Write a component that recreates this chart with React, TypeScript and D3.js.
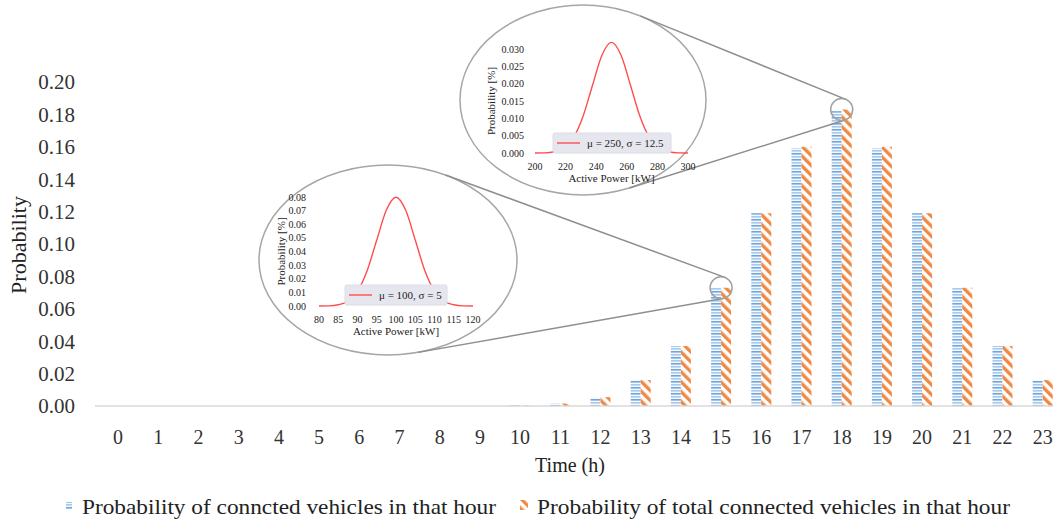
import React from "react";
import * as d3 from "d3";

// ---- main chart data ----
const hours = d3.range(0, 24).map(String);
const connectedProb = [0, 0, 0, 0, 0, 0, 0, 0, 0, 0, 0.0004, 0.0015, 0.005, 0.016, 0.037, 0.073, 0.119, 0.159, 0.182, 0.159, 0.119, 0.073, 0.037, 0.016];
const totalProb = [0, 0, 0, 0, 0, 0, 0, 0, 0, 0, 0.0004, 0.0015, 0.0055, 0.016, 0.037, 0.073, 0.119, 0.16, 0.183, 0.16, 0.119, 0.073, 0.037, 0.016];
const yTicks = [0, 0.02, 0.04, 0.06, 0.08, 0.1, 0.12, 0.14, 0.16, 0.18, 0.2];
const seriesNames = ["Probability of conncted vehicles in that hour", "Probability of total connected vehicles in that hour"];

// ---- inset A (mu=100, sigma=5) ----
const insetA_x = [80, 82.5, 85, 87.5, 90, 92.5, 95, 97.5, 100, 102.5, 105, 107.5, 110, 112.5, 115, 117.5, 120];
const insetA_y = [0, 0.0001, 0.0009, 0.0035, 0.0108, 0.0259, 0.0484, 0.0704, 0.0798, 0.0704, 0.0484, 0.0259, 0.0108, 0.0035, 0.0009, 0.0001, 0];
const insetA_xTicks = [80, 85, 90, 95, 100, 105, 110, 115, 120];
const insetA_yTicks = [0, 0.01, 0.02, 0.03, 0.04, 0.05, 0.06, 0.07, 0.08];
const insetA_label = "μ = 100, σ = 5";
const insetA_hour = 15;

// ---- inset B (mu=250, sigma=12.5) ----
const insetB_x = [200, 206.25, 212.5, 218.75, 225, 231.25, 237.5, 243.75, 250, 256.25, 262.5, 268.75, 275, 281.25, 287.5, 293.75, 300];
const insetB_y = [0, 0.00004, 0.00035, 0.0014, 0.0043, 0.0104, 0.0194, 0.0282, 0.0319, 0.0282, 0.0194, 0.0104, 0.0043, 0.0014, 0.00035, 0.00004, 0];
const insetB_xTicks = [200, 220, 240, 260, 280, 300];
const insetB_yTicks = [0, 0.005, 0.01, 0.015, 0.02, 0.025, 0.03];
const insetB_label = "μ = 250, σ = 12.5";
const insetB_hour = 18;

const W = 1053, H = 521;
const FONT = "'Times New Roman', 'Liberation Serif', serif";

function tangents(e: { cx: number; cy: number; rx: number; ry: number }, c: { cx: number; cy: number; r: number }) {
  const f = (t: number) => {
    const nx = Math.cos(t), ny = Math.sin(t);
    return Math.sqrt(e.rx * e.rx * nx * nx + e.ry * e.ry * ny * ny) + nx * e.cx + ny * e.cy - (c.r + nx * c.cx + ny * c.cy);
  };
  const roots: number[] = [];
  const N = 3600;
  for (let i = 0; i < N; i++) {
    let a = (i / N) * 2 * Math.PI, b = ((i + 1) / N) * 2 * Math.PI;
    let fa = f(a), fb = f(b);
    if (fa === 0) { roots.push(a); continue; }
    if (fa * fb < 0) {
      for (let k = 0; k < 50; k++) {
        const m = (a + b) / 2, fm = f(m);
        if (fa * fm <= 0) { b = m; fb = fm; } else { a = m; fa = fm; }
      }
      roots.push((a + b) / 2);
    }
  }
  return roots.map((t) => {
    const nx = Math.cos(t), ny = Math.sin(t);
    const s = Math.sqrt(e.rx * e.rx * nx * nx + e.ry * e.ry * ny * ny);
    return {
      x1: e.cx + (e.rx * e.rx * nx) / s,
      y1: e.cy + (e.ry * e.ry * ny) / s,
      x2: c.cx + c.r * nx,
      y2: c.cy + c.r * ny,
    };
  });
}

type InsetProps = {
  xs: number[]; ys: number[]; xTicks: number[]; yTicks: number[];
  xRange: [number, number]; yRange: [number, number]; yMax: number;
  yFmt: (v: number) => string; label: string;
  legend: { x: number; y: number; w: number; h: number };
  yLabelX: number; yTitleX: number;
};

function Inset(p: InsetProps) {
  const x = d3.scaleLinear().domain([p.xTicks[0], p.xTicks[p.xTicks.length - 1]]).range(p.xRange);
  const y = d3.scaleLinear().domain([0, p.yMax]).range(p.yRange);
  const line = d3.line<number>().x((_, i) => x(p.xs[i])).y((d) => y(d)).curve(d3.curveMonotoneX);
  const fs = 10;
  return (
    <g fontFamily={FONT} fill="#222">
      <path d={line(p.ys) || ""} fill="none" stroke="#ff4d4d" strokeWidth={1.4} />
      {p.yTicks.map((t) => (
        <text key={"y" + t} x={p.yLabelX} y={y(t)} dy="0.35em" textAnchor="end" fontSize={fs}>{p.yFmt(t)}</text>
      ))}
      {p.xTicks.map((t) => (
        <text key={"x" + t} x={x(t)} y={p.yRange[0] + 13} dy="0.35em" textAnchor="middle" fontSize={fs}>{t}</text>
      ))}
      <text x={(p.xRange[0] + p.xRange[1]) / 2} y={p.yRange[0] + 25} dy="0.35em" textAnchor="middle" fontSize={11}>Active Power [kW]</text>
      <text transform={`translate(${p.yTitleX},${(p.yRange[0] + p.yRange[1]) / 2}) rotate(-90)`} textAnchor="middle" dy="0.35em" fontSize={11}>Probability [%]</text>
      <rect x={p.legend.x} y={p.legend.y} width={p.legend.w} height={p.legend.h} rx={2} fill="#e6e6ef" stroke="#dcdce6" />
      <line x1={p.legend.x + 4} x2={p.legend.x + 27} y1={p.legend.y + p.legend.h / 2} y2={p.legend.y + p.legend.h / 2} stroke="#ff4d4d" strokeWidth={1.4} />
      <text x={p.legend.x + 34} y={p.legend.y + p.legend.h / 2} dy="0.35em" fontSize={11}>{p.label}</text>
    </g>
  );
}

export default function App() {
  const x = d3.scaleBand().domain(hours).range([98, 98 + 24 * 40.2]).paddingInner(0).paddingOuter(0);
  const xSub = d3.scaleBand().domain(["a", "b"]).range([0, x.bandwidth()]).paddingOuter(1.01);
  const y = d3.scaleLinear().domain([0, 0.2]).range([406, 82]);

  const ellA = { cx: 388, cy: 260, rx: 129, ry: 95 };
  const ellB = { cx: 583, cy: 100, rx: 123, ry: 95 };
  const cA = { cx: x(String(insetA_hour))! + x.bandwidth() / 2, cy: y(Math.max(connectedProb[insetA_hour], totalProb[insetA_hour])), r: 11 };
  const cB = { cx: x(String(insetB_hour))! + x.bandwidth() / 2, cy: y(Math.max(connectedProb[insetB_hour], totalProb[insetB_hour])), r: 11 };
  const tA = tangents(ellA, cA);
  const tB = tangents(ellB, cB);

  return (
    <svg width={W} height={H} style={{ position: "absolute", left: 0, top: 0, background: "#fff" }} fontFamily={FONT}>
      <defs>
        <pattern id="hstripe" patternUnits="userSpaceOnUse" width={6} height={6}>
          <rect width={6} height={6} fill="#f4f8fc" />
          <rect y={0} width={6} height={1.6} fill="#a9c9ec" />
          <rect y={3} width={6} height={1.6} fill="#6fa6dc" />
        </pattern>
        <pattern id="dstripe" patternUnits="userSpaceOnUse" width={7} height={7} patternTransform="rotate(-45)">
          <rect width={7} height={7} fill="#fff" />
          <rect x={0} width={3.4} height={7} fill="#ee8a45" />
        </pattern>
      </defs>

      {/* bars */}
      {hours.map((h, i) => (
        <g key={h}>
          {connectedProb[i] > 0 && (
            <rect x={x(h)! + xSub("a")!} y={y(connectedProb[i])} width={xSub.bandwidth()} height={y(0) - y(connectedProb[i])} fill="url(#hstripe)" />
          )}
          {totalProb[i] > 0 && (
            <rect x={x(h)! + xSub("b")!} y={y(totalProb[i])} width={xSub.bandwidth()} height={y(0) - y(totalProb[i])} fill="url(#dstripe)" />
          )}
        </g>
      ))}

      {/* x axis line */}
      <line x1={95} x2={W} y1={y(0)} y2={y(0)} stroke="#d9d9d9" strokeWidth={1.5} />

      {/* y ticks */}
      {yTicks.map((t) => (
        <text key={t} x={75} y={y(t)} dy="0.35em" textAnchor="end" fontSize={21} fill="#333">{d3.format(".2f")(t)}</text>
      ))}
      {/* x ticks */}
      {hours.map((h) => (
        <text key={h} x={x(h)! + x.bandwidth() / 2} y={437} dy="0.35em" textAnchor="middle" fontSize={20} fill="#333">{h}</text>
      ))}

      <text x={570} y={465} dy="0.35em" textAnchor="middle" fontSize={20} fill="#222">Time (h)</text>
      <text transform="translate(18,245) rotate(-90)" dy="0.35em" textAnchor="middle" fontSize={22} fill="#222">Probability</text>

      {/* legend */}
      <rect x={66} y={502} width={6} height={8} fill="url(#hstripe)" />
      <text x={82} y={507} dy="0.35em" fontSize={21} fill="#222" textLength={414} lengthAdjust="spacingAndGlyphs">{seriesNames[0]}</text>
      <rect x={520} y={500} width={8} height={10} fill="url(#dstripe)" />
      <text x={537} y={507} dy="0.35em" fontSize={21} fill="#222" textLength={473} lengthAdjust="spacingAndGlyphs">{seriesNames[1]}</text>

      {/* zoom annotations */}
      <ellipse cx={ellA.cx} cy={ellA.cy} rx={ellA.rx} ry={ellA.ry} fill="#fff" stroke="#a6a6a6" strokeWidth={1.5} />
      <ellipse cx={ellB.cx} cy={ellB.cy} rx={ellB.rx} ry={ellB.ry} fill="#fff" stroke="#a6a6a6" strokeWidth={1.5} />
      {[...tA, ...tB].map((t, i) => (
        <line key={i} x1={t.x1} y1={t.y1} x2={t.x2} y2={t.y2} stroke="#8f8f8f" strokeWidth={1.5} />
      ))}
      <circle cx={cA.cx} cy={cA.cy} r={cA.r} fill="none" stroke="#a0a0a0" strokeWidth={1.5} />
      <circle cx={cB.cx} cy={cB.cy} r={cB.r} fill="none" stroke="#a0a0a0" strokeWidth={1.5} />

      <Inset xs={insetA_x} ys={insetA_y} xTicks={insetA_xTicks} yTicks={insetA_yTicks}
        xRange={[319, 473]} yRange={[306, 197]} yMax={0.08} yFmt={d3.format(".2f")} label={insetA_label}
        legend={{ x: 345, y: 285, w: 102, h: 20 }} yLabelX={306} yTitleX={281} />
      <Inset xs={insetB_x} ys={insetB_y} xTicks={insetB_xTicks} yTicks={insetB_yTicks}
        xRange={[535, 688]} yRange={[153, 49]} yMax={0.03} yFmt={d3.format(".3f")} label={insetB_label}
        legend={{ x: 553, y: 133, w: 118, h: 20 }} yLabelX={524} yTitleX={491} />
    </svg>
  );
}
